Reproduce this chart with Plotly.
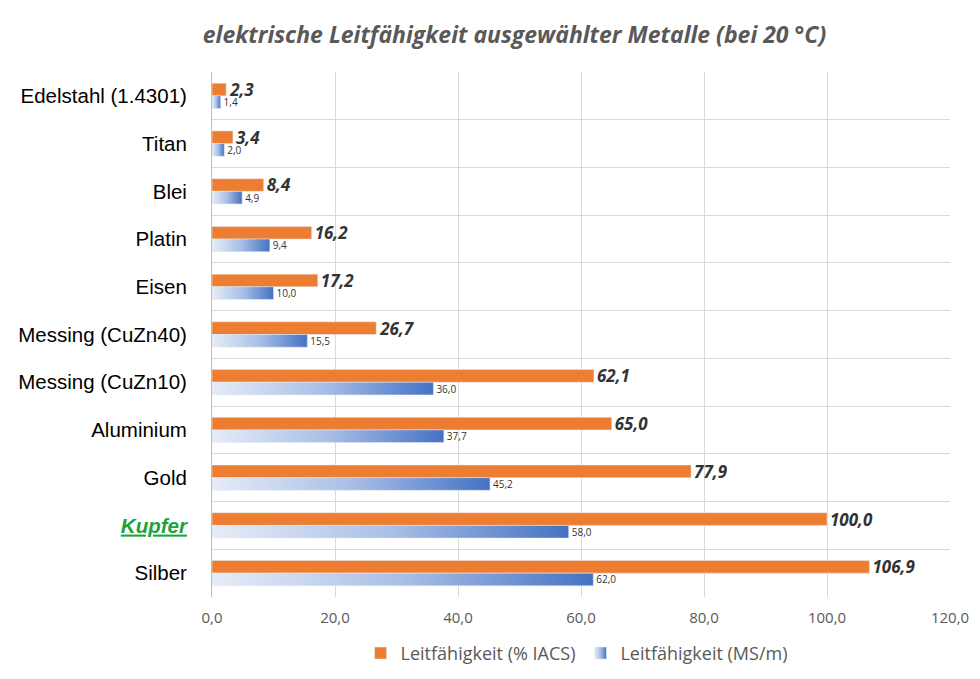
import plotly.graph_objects as go

categories = ["Edelstahl (1.4301)", "Titan", "Blei", "Platin", "Eisen",
              "Messing (CuZn40)", "Messing (CuZn10)", "Aluminium", "Gold",
              "Kupfer", "Silber"]
iacs = [2.3, 3.4, 8.4, 16.2, 17.2, 26.7, 62.1, 65.0, 77.9, 100.0, 106.9]
msm = [1.4, 2.0, 4.9, 9.4, 10.0, 15.5, 36.0, 37.7, 45.2, 58.0, 62.0]
x_ticks = [0, 20, 40, 60, 80, 100, 120]

ticktext = []
for c in categories:
    if c == "Kupfer":
        ticktext.append("<span style='color:#1aa33c'><b><i><u>Kupfer</u></i></b></span>")
    else:
        ticktext.append(c)

fig = go.Figure()
fig.add_trace(go.Bar(
    y=categories, x=iacs, orientation="h", name="Leitfähigkeit (% IACS)",
    marker=dict(color="#ED7D31"),
    texttemplate="<b><i>%{x:.1f}</i></b>", textposition="outside",
    textfont=dict(family="Open Sans", size=17, color="#333333"),
    constraintext="none", cliponaxis=False,
))
fig.add_trace(go.Bar(
    y=categories, x=msm, orientation="h", name="Leitfähigkeit (MS/m)",
    marker=dict(color="#4472C4"),
    texttemplate="%{x:.1f}", textposition="outside",
    textfont=dict(family="Open Sans", size=10, color="#333333"),
    constraintext="none", cliponaxis=False,
))

fig.update_layout(
    width=980, height=679,
    paper_bgcolor="white", plot_bgcolor="white",
    separators=",.",
    barmode="group", bargap=0.47, bargroupgap=0.0,
    margin=dict(l=212, r=30, t=72, b=82, autoexpand=False),
    title=dict(text="<b><i>elektrische Leitfähigkeit ausgewählter Metalle (bei 20 °C)</i></b>",
               x=0.525, xanchor="center", y=0.948, yanchor="middle",
               font=dict(family="Open Sans", size=23, color="#595959")),
    xaxis=dict(range=[0, 120], tickvals=x_ticks, tickformat=".1f",
               showgrid=True, gridcolor="#d9d9d9", gridwidth=1,
               zeroline=False, showline=False, automargin=False,
               tickfont=dict(family="Open Sans", size=15, color="#595959"),
               ticks="", ticklabelstandoff=10),
    yaxis=dict(autorange="reversed", tickmode="array", tickvals=categories,
               ticktext=ticktext, tickson="boundaries", automargin=False,
               showgrid=True, gridcolor="#d9d9d9", gridwidth=1,
               showline=True, linecolor="#bfbfbf", linewidth=1,
               ticks="", ticklabelstandoff=20,
               tickfont=dict(family="Liberation Sans", size=20.5, color="#000000")),
    legend=dict(orientation="h", x=0.494, xanchor="center",
                yref="container", y=0.065, yanchor="top",
                font=dict(family="Open Sans", size=18, color="#595959"),
                itemwidth=30, traceorder="normal"),
    showlegend=True,
)

post = """
(function(){
  document.documentElement.style.margin = '0';
  document.body.style.margin = '0';
  document.body.style.padding = '0';
  var gd = document.getElementById('{plot_id}');
  function apply(){
    var svg = gd.querySelector('svg.main-svg');
    if(!svg) return;
    var ns = 'http://www.w3.org/2000/svg';
    if(!document.getElementById('blueGrad')){
      var defs = svg.querySelector('defs') || svg.insertBefore(document.createElementNS(ns,'defs'), svg.firstChild);
      var lg = document.createElementNS(ns,'linearGradient');
      lg.setAttribute('id','blueGrad');
      lg.setAttribute('x1','0'); lg.setAttribute('x2','1');
      lg.setAttribute('y1','0'); lg.setAttribute('y2','0');
      var stops = [['0','#e6ecf7'],['0.5','#a9bfe6'],['1','#4472c4']];
      stops.forEach(function(s){
        var st = document.createElementNS(ns,'stop');
        st.setAttribute('offset', s[0]); st.setAttribute('stop-color', s[1]);
        lg.appendChild(st);
      });
      defs.appendChild(lg);
    }
    var traces = gd.querySelectorAll('.barlayer .trace');
    if(traces.length > 1){
      traces[1].querySelectorAll('path').forEach(function(p){ p.style.fill = 'url(#blueGrad)'; });
    }
    var lt = gd.querySelectorAll('.legend .traces');
    if(lt.length > 1){
      lt[1].querySelectorAll('.legendpoints path').forEach(function(p){ p.style.fill = 'url(#blueGrad)'; });
    }
  }
  apply();
  if(gd.on) gd.on('plotly_afterplot', apply);
})();
"""

fig.write_html("out.html", post_script=post, config={"displayModeBar": False})
